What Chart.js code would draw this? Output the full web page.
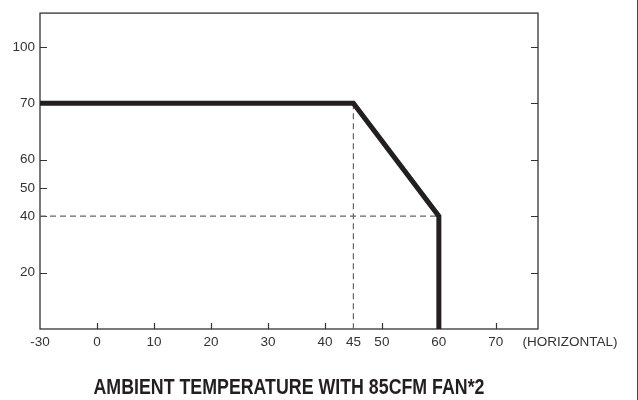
<!DOCTYPE html>
<html>
<head>
<meta charset="utf-8">
<script src="https://cdn.jsdelivr.net/npm/chart.js@4/dist/chart.umd.min.js"></script>
<style>
	html, body { margin: 0; padding: 0; background: #fff; }
	#wrap { width: 638px; height: 400px; position: relative; }
</style>
</head>
<body>
<div id="wrap"><canvas id="deratingChart"></canvas></div>
<script>
// Derating curve: load (%) against ambient temperature (deg C).
const temps = [ -30, 45, 60, 60 ];
const loads = [ 70, 70, 40, 0 ];

// Dashed guide lines.
const guideVTemps = [ 45, 45 ];
const guideVLoads = [ 70, 0 ];
const guideHTemps = [ -30, 60 ];
const guideHLoads = [ 40, 40 ];

// Axis labels.
const xTicks = [ -30, 0, 10, 20, 30, 40, 45, 50, 60, 70 ];
const yTicks = [ 20, 40, 50, 60, 70, 100 ];
const yRightTicks = [ 20, 40, 60, 70, 100 ];
// The load axis is drawn with uneven steps: one division per breakpoint.
const loadBreaks = [ 0, 20, 40, 60, 70, 100 ];

const titleText = 'AMBIENT TEMPERATURE WITH 85CFM FAN*2';
const xNote = '(HORIZONTAL)';

// Negative temperatures are squeezed into one division left of 0.
function tempAxis( t ) {
	return t < 0 ? t / 3 : t;
}

function loadAxis( v ) {
	for ( let i = 1; i < loadBreaks.length; i++ ) {
		if ( v <= loadBreaks[ i ] ) {
			return i - 1 + ( v - loadBreaks[ i - 1 ] ) / ( loadBreaks[ i ] - loadBreaks[ i - 1 ] );
		}
	}
	return loadBreaks.length - 1;
}

function points( xs, ys ) {
	return xs.map( ( x, i ) => ( { x: tempAxis( x ), y: loadAxis( ys[ i ] ) } ) );
}

const tickFont = { family: "'Liberation Sans', Arial, sans-serif", size: 13.5 };

const framePlugin = {
	id: 'frame',
	beforeDatasetsDraw( chart ) {
		const ctx = chart.ctx,
			a = chart.chartArea,
			xs = chart.scales.x,
			ys = chart.scales.y;
		ctx.save();
		ctx.strokeStyle = '#333';
		ctx.lineWidth = 1.3;
		ctx.strokeRect( a.left, a.top, a.right - a.left, a.bottom - a.top );

		ctx.lineWidth = 1.2;
		ctx.beginPath();
		xTicks.forEach( t => {
			if ( t === -30 || t === 45 ) {
				return;
			}
			const px = Math.round( xs.getPixelForValue( tempAxis( t ) ) ) + 0.5;
			ctx.moveTo( px, a.bottom );
			ctx.lineTo( px, a.bottom - 6 );
		} );
		yTicks.forEach( v => {
			const py = Math.round( ys.getPixelForValue( loadAxis( v ) ) ) + 0.5;
			ctx.moveTo( a.left, py );
			ctx.lineTo( a.left + 7, py );
		} );
		yRightTicks.forEach( v => {
			const py = Math.round( ys.getPixelForValue( loadAxis( v ) ) ) + 0.5;
			ctx.moveTo( a.right, py );
			ctx.lineTo( a.right - 7, py );
		} );
		ctx.stroke();
		ctx.restore();
	},
	afterDraw( chart ) {
		const ctx = chart.ctx,
			a = chart.chartArea;
		ctx.save();

		// Note at the end of the temperature axis.
		ctx.fillStyle = '#333';
		ctx.font = "13.5px 'Liberation Sans', Arial, sans-serif";
		ctx.textAlign = 'center';
		ctx.textBaseline = 'middle';
		ctx.fillText( xNote, 570, a.bottom + 13 );

		// Condensed bold title under the chart.
		ctx.font = "bold 21.5px 'Liberation Sans', Arial, sans-serif";
		const w = ctx.measureText( titleText ).width;
		const sx = 391 / w;
		ctx.translate( ( a.left + a.right ) / 2, 388 );
		ctx.scale( sx, 1 );
		ctx.fillStyle = '#231f20';
		ctx.fillText( titleText, 0, 0 );
		ctx.restore();

		// Page edge line on the right.
		ctx.save();
		ctx.strokeStyle = '#444';
		ctx.lineWidth = 1;
		ctx.beginPath();
		ctx.moveTo( chart.width - 0.5, 0 );
		ctx.lineTo( chart.width - 0.5, chart.height );
		ctx.stroke();
		ctx.restore();
	}
};

new Chart( 'deratingChart', {
	type: 'line',
	data: {
		datasets: [ {
			data: points( temps, loads ),
			borderColor: '#231f20',
			borderWidth: 5,
			borderJoinStyle: 'miter',
			pointRadius: 0,
			tension: 0,
			order: 0
		}, {
			data: points( guideVTemps, guideVLoads ),
			borderColor: '#666',
			borderWidth: 1.2,
			borderDash: [ 6, 4 ],
			pointRadius: 0,
			order: 1
		}, {
			data: points( guideHTemps, guideHLoads ),
			borderColor: '#666',
			borderWidth: 1.2,
			borderDash: [ 6, 4 ],
			pointRadius: 0,
			order: 1
		} ]
	},
	options: {
		responsive: true,
		maintainAspectRatio: false,
		animation: false,
		layout: {
			padding: { top: 7, right: 100, left: 0, bottom: 0 }
		},
		plugins: {
			legend: { display: false },
			tooltip: { enabled: false }
		},
		scales: {
			x: {
				type: 'linear',
				min: tempAxis( -30 ),
				max: 77.4,
				grid: { display: false, tickLength: 0 },
				border: { display: false },
				afterBuildTicks: scale => {
					scale.ticks = xTicks.map( t => ( { value: tempAxis( t ) } ) );
				},
				afterFit: scale => {
					scale.height = 71;
				},
				ticks: {
					autoSkip: false,
					maxRotation: 0,
					padding: 5,
					color: '#333',
					font: tickFont,
					callback: ( val, i ) => String( xTicks[ i ] )
				}
			},
			y: {
				type: 'linear',
				min: 0,
				max: 5.6,
				grid: { display: false, tickLength: 0 },
				border: { display: false },
				afterBuildTicks: scale => {
					scale.ticks = yTicks.map( v => ( { value: loadAxis( v ) } ) );
				},
				afterFit: scale => {
					scale.width = 40;
				},
				ticks: {
					autoSkip: false,
					padding: 5,
					color: '#333',
					font: tickFont,
					callback: ( val, i ) => String( yTicks[ i ] )
				}
			}
		}
	},
	plugins: [ framePlugin ]
} );
</script>
</body>
</html>
